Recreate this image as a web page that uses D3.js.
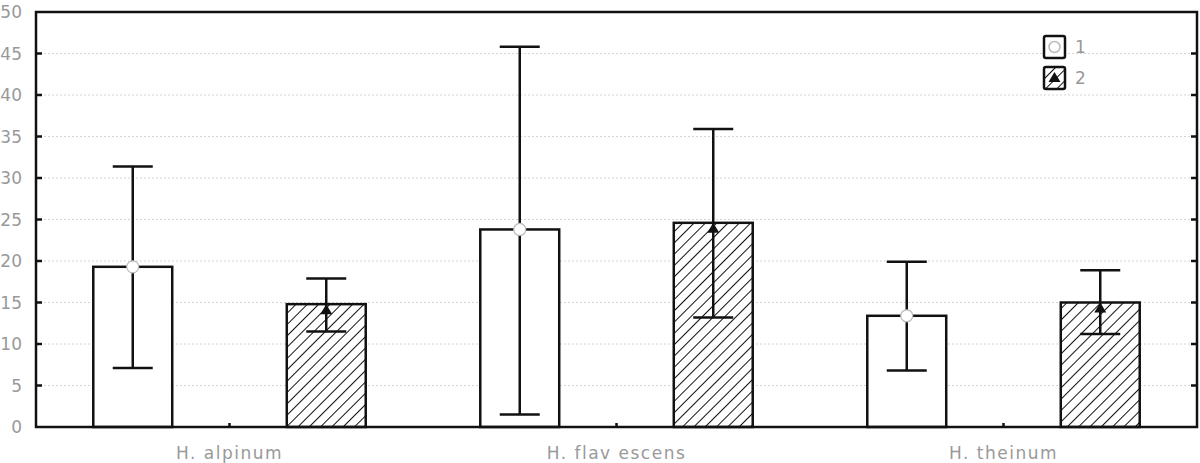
<!DOCTYPE html>
<html>
<head>
<meta charset="utf-8">
<script src="https://cdn.jsdelivr.net/npm/d3@7"></script>
<style>
  html, body { margin: 0; padding: 0; background: #fff; }
  svg { display: block; }
  text { font-family: "DejaVu Sans", sans-serif; fill: #999; }
</style>
</head>
<body>
<svg id="chart" width="1200" height="463"></svg>
<script>
// ---- data ----
const categories = ["H. alpinum", "H. flav escens", "H. theinum"];
const seriesNames = ["1", "2"];
const means1 = [19.3, 23.8, 13.4];
const upper1 = [31.4, 45.8, 19.9];
const lower1 = [7.1, 1.5, 6.8];
const means2 = [14.8, 24.6, 15.0];
const upper2 = [17.9, 35.9, 18.9];
const lower2 = [11.5, 13.2, 11.2];
const yTicks = [0, 5, 10, 15, 20, 25, 30, 35, 40, 45, 50];

// ---- layout ----
const W = 1200, H = 463;
const m = { left: 36, right: 3, top: 12, bottom: 36 };
const svg = d3.select("#chart");

const x = d3.scaleBand().domain(categories).range([m.left, W - m.right]).padding(0);
const xs = d3.scalePoint().domain(seriesNames).range([0, x.bandwidth()]).padding(0.5);
const y = d3.scaleLinear().domain([0, 50]).range([H - m.bottom, m.top]);
const barW = x.bandwidth() * 0.204;
const capW = 40;

// hatch pattern
const defs = svg.append("defs");
const pat = defs.append("pattern")
  .attr("id", "hatch").attr("patternUnits", "userSpaceOnUse")
  .attr("width", 8).attr("height", 8)
  .attr("patternTransform", "rotate(45)");
pat.append("rect").attr("width", 8).attr("height", 8).attr("fill", "#fff");
pat.append("line").attr("x1", 0).attr("y1", 0).attr("x2", 0).attr("y2", 8)
  .attr("stroke", "#111").attr("stroke-width", 2);

// grid
svg.append("g").selectAll("line")
  .data(yTicks.filter(t => t > 0 && t < 50))
  .join("line")
  .attr("x1", m.left).attr("x2", W - m.right)
  .attr("y1", d => y(d)).attr("y2", d => y(d))
  .attr("stroke", "#d4d4d4").attr("stroke-width", 1)
  .attr("stroke-dasharray", "2,2");

// data rows
const rows = [];
categories.forEach((c, i) => {
  rows.push({ cat: c, s: "1", mean: means1[i], hi: upper1[i], lo: lower1[i] });
  rows.push({ cat: c, s: "2", mean: means2[i], hi: upper2[i], lo: lower2[i] });
});
const cx = d => x(d.cat) + xs(d.s);

// bars
svg.append("g").selectAll("rect")
  .data(rows).join("rect")
  .attr("x", d => cx(d) - barW / 2)
  .attr("y", d => y(d.mean))
  .attr("width", barW)
  .attr("height", d => y(0) - y(d.mean))
  .attr("fill", d => d.s === "1" ? "#fff" : "url(#hatch)")
  .attr("stroke", "#111").attr("stroke-width", 2.5);

// error bars
const eb = svg.append("g").attr("stroke", "#111").attr("stroke-width", 2.5);
eb.selectAll("line.v").data(rows).join("line").attr("class", "v")
  .attr("x1", cx).attr("x2", cx)
  .attr("y1", d => y(d.hi)).attr("y2", d => y(d.lo));
eb.selectAll("line.t").data(rows).join("line").attr("class", "t")
  .attr("x1", d => cx(d) - capW / 2).attr("x2", d => cx(d) + capW / 2)
  .attr("y1", d => y(d.hi)).attr("y2", d => y(d.hi));
eb.selectAll("line.b").data(rows).join("line").attr("class", "b")
  .attr("x1", d => cx(d) - capW / 2).attr("x2", d => cx(d) + capW / 2)
  .attr("y1", d => y(d.lo)).attr("y2", d => y(d.lo));

// markers
const triPath = (px, py) => `M${px},${py}L${px + 6},${py + 10}L${px - 6},${py + 10}Z`;
svg.append("g").selectAll("circle")
  .data(rows.filter(d => d.s === "1")).join("circle")
  .attr("cx", cx).attr("cy", d => y(d.mean)).attr("r", 6)
  .attr("fill", "#fff").attr("stroke", "#bbb").attr("stroke-width", 1.2);
svg.append("g").selectAll("path")
  .data(rows.filter(d => d.s === "2")).join("path")
  .attr("d", d => triPath(cx(d), y(d.mean)))
  .attr("fill", "#111");

// frame
svg.append("rect")
  .attr("x", m.left).attr("y", m.top)
  .attr("width", W - m.right - m.left).attr("height", y(0) - m.top)
  .attr("fill", "none").attr("stroke", "#111").attr("stroke-width", 2.5);

// y ticks (inward) left & right
const tk = svg.append("g").attr("stroke", "#111").attr("stroke-width", 2.5);
tk.selectAll("line.l").data(yTicks.slice(1, -1)).join("line").attr("class", "l")
  .attr("x1", m.left).attr("x2", m.left + 6)
  .attr("y1", d => y(d)).attr("y2", d => y(d));
tk.selectAll("line.r").data(yTicks.slice(1, -1)).join("line").attr("class", "r")
  .attr("x1", W - m.right).attr("x2", W - m.right - 6)
  .attr("y1", d => y(d)).attr("y2", d => y(d));
tk.selectAll("line.x").data(categories).join("line").attr("class", "x")
  .attr("x1", d => x(d) + x.bandwidth() / 2).attr("x2", d => x(d) + x.bandwidth() / 2)
  .attr("y1", y(0)).attr("y2", y(0) - 4);

// y labels
svg.append("g").selectAll("text")
  .data(yTicks).join("text")
  .attr("x", 22).attr("y", d => y(d)).attr("dy", "0.36em")
  .attr("text-anchor", "end").attr("font-size", 17)
  .text(d => d);

// x labels
svg.append("g").selectAll("text")
  .data(categories).join("text")
  .attr("x", d => x(d) + x.bandwidth() / 2).attr("y", 459)
  .attr("text-anchor", "middle").attr("font-size", 17)
  .attr("letter-spacing", 1.5)
  .text(d => d);

// legend
const lg = svg.append("g").attr("transform", "translate(1044,36)");
const items = lg.selectAll("g").data(seriesNames).join("g")
  .attr("transform", (d, i) => `translate(0,${i * 31})`);
items.append("rect").attr("width", 21).attr("height", 22)
  .attr("rx", 2)
  .attr("fill", d => d === "1" ? "#fff" : "url(#hatch)")
  .attr("stroke", "#111").attr("stroke-width", 2.5);
items.filter(d => d === "1").append("circle")
  .attr("cx", 10.5).attr("cy", 11).attr("r", 5.5)
  .attr("fill", "#fff").attr("stroke", "#bbb").attr("stroke-width", 1.5);
items.filter(d => d === "2").append("path")
  .attr("d", triPath(10.5, 5)).attr("fill", "#111");
items.append("text").attr("x", 31).attr("y", 11).attr("dy", "0.36em")
  .attr("font-size", 17).text(d => d);
</script>
</body>
</html>
